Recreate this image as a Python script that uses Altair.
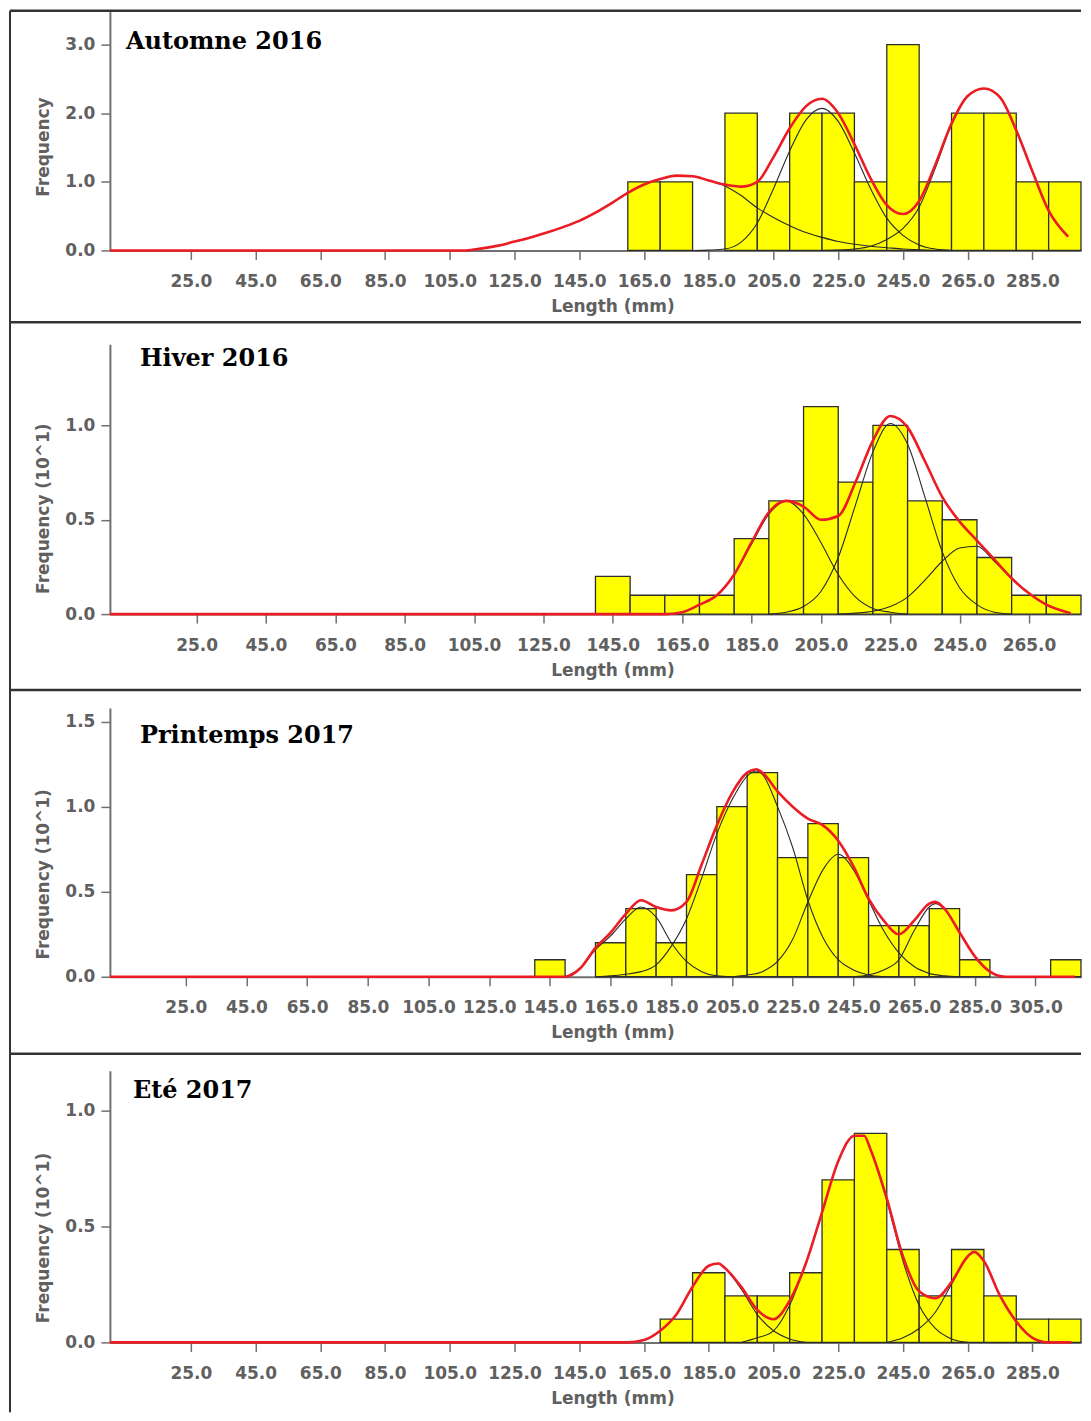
import altair as alt
import pandas as pd

# ---------------- data ----------------
# Panel 1 : Automne 2016 (frequency, counts)
P1_BINS = [160, 170, 190, 200, 210, 220, 230, 240, 250, 260, 270, 280, 290]
P1_COUNTS = [1, 1, 2, 1, 2, 2, 1, 3, 1, 2, 2, 1, 1]
P1_RED_X = [0, 110, 115, 120, 125, 130, 135, 140, 145, 150, 155, 160, 165, 170, 175, 180, 185, 190,
            195, 200, 205, 210, 215, 220, 225, 230, 235, 240, 245, 250, 255, 260, 265, 270, 275, 280,
            285, 290, 296]
P1_RED_Y = [0, 0, 0.03, 0.07, 0.13, 0.19, 0.26, 0.34, 0.43, 0.55, 0.69, 0.84, 0.96, 1.04, 1.09, 1.08,
            1.02, 0.96, 0.93, 1.00, 1.36, 1.78, 2.10, 2.21, 2.00, 1.55, 1.05, 0.66, 0.53, 0.72, 1.25,
            1.85, 2.25, 2.36, 2.23, 1.75, 1.15, 0.58, 0.20]
P1_C1_X = [110, 115, 120, 125, 130, 135, 140, 145, 150, 155, 160, 165, 170, 175, 180, 185, 190, 195,
           200, 205, 210, 215, 220, 225, 230, 235, 240, 245, 250, 255, 260]
P1_C1_Y = [0, 0.03, 0.07, 0.13, 0.19, 0.26, 0.34, 0.43, 0.55, 0.69, 0.84, 0.96, 1.04, 1.09, 1.08, 1.02,
           0.94, 0.80, 0.62, 0.48, 0.36, 0.26, 0.19, 0.13, 0.09, 0.06, 0.04, 0.02, 0.01, 0.0, 0.0]
P1_C2_X = [180, 185, 190, 195, 200, 205, 210, 215, 220, 225, 230, 235, 240, 245, 250, 255, 260]
P1_C2_Y = [0, 0.005, 0.02, 0.12, 0.40, 0.90, 1.45, 1.90, 2.07, 1.88, 1.42, 0.90, 0.47, 0.22, 0.08, 0.02, 0]
P1_C3_X = [220, 225, 230, 235, 240, 245, 250, 255, 260, 265, 270, 275, 280, 285, 290, 296]
P1_C3_Y = [0, 0.005, 0.02, 0.06, 0.16, 0.32, 0.63, 1.20, 1.83, 2.25, 2.36, 2.23, 1.75, 1.15, 0.58, 0.20]
P1_XTICKS = [25, 45, 65, 85, 105, 125, 145, 165, 185, 205, 225, 245, 265, 285]
P1_YTICKS = [0, 1, 2, 3]

# Panel 2 : Hiver 2016 (frequency x 10)
P2_BINS = [140, 150, 160, 170, 180, 190, 200, 210, 220, 230, 240, 250, 260, 270]
P2_COUNTS = [0.2, 0.1, 0.1, 0.1, 0.4, 0.6, 1.1, 0.7, 1.0, 0.6, 0.5, 0.3, 0.1, 0.1]
P2_RED_X = [0, 160, 165, 170, 175, 180, 185, 190, 195, 200, 205, 210, 215, 220, 225, 230, 235, 240,
            245, 250, 255, 260, 265, 270, 275, 277]
P2_RED_Y = [0, 0, 0.01, 0.05, 0.10, 0.21, 0.38, 0.54, 0.60, 0.57, 0.50, 0.52, 0.70, 0.92, 1.05, 0.99,
            0.81, 0.62, 0.49, 0.39, 0.29, 0.19, 0.11, 0.05, 0.015, 0.005]
P2_C1_X = [160, 165, 170, 175, 180, 185, 190, 195, 200, 205, 210, 215, 220, 225, 230]
P2_C1_Y = [0, 0.01, 0.05, 0.10, 0.21, 0.37, 0.53, 0.60, 0.53, 0.38, 0.21, 0.09, 0.03, 0.01, 0]
P2_C2_X = [190, 195, 200, 205, 210, 215, 220, 225, 230, 235, 240, 245, 250, 255, 260]
P2_C2_Y = [0, 0.01, 0.04, 0.12, 0.30, 0.58, 0.86, 1.01, 0.90, 0.62, 0.33, 0.14, 0.05, 0.01, 0]
P2_C3_X = [210, 215, 220, 225, 230, 235, 240, 245, 250, 255, 260, 265, 270, 275, 277]
P2_C3_Y = [0, 0.005, 0.015, 0.04, 0.09, 0.18, 0.28, 0.35, 0.36, 0.28, 0.19, 0.11, 0.05, 0.015, 0.005]
P2_XTICKS = [25, 45, 65, 85, 105, 125, 145, 165, 185, 205, 225, 245, 265]
P2_YTICKS = [0, 0.5, 1.0]

# Panel 3 : Printemps 2017
P3_BINS = [140, 160, 170, 180, 190, 200, 210, 220, 230, 240, 250, 260, 270, 280, 310]
P3_COUNTS = [0.1, 0.2, 0.4, 0.2, 0.6, 1.0, 1.2, 0.7, 0.9, 0.7, 0.3, 0.3, 0.4, 0.1, 0.1]
P3_RED_X = [0, 150, 155, 160, 165, 170, 175, 180, 185, 190, 195, 200, 205, 210, 213, 215, 220, 225,
            230, 235, 240, 245, 250, 255, 260, 265, 270, 272, 275, 280, 285, 290, 295, 318]
P3_RED_Y = [0, 0, 0.05, 0.17, 0.26, 0.37, 0.45, 0.41, 0.39, 0.44, 0.66, 0.89, 1.08, 1.20, 1.22, 1.20,
            1.09, 1.00, 0.93, 0.89, 0.80, 0.65, 0.46, 0.33, 0.25, 0.33, 0.43, 0.44, 0.40, 0.26, 0.12,
            0.03, 0, 0]
P3_C1_X = [150, 155, 160, 165, 170, 175, 180, 185, 190, 195, 200, 205]
P3_C1_Y = [0, 0.05, 0.16, 0.24, 0.34, 0.41, 0.35, 0.20, 0.09, 0.03, 0.005, 0]
P3_C2_X = [160, 165, 170, 175, 180, 185, 190, 195, 200, 205, 210, 213, 215, 220, 225, 230, 235, 240,
           245, 250, 255]
P3_C2_Y = [0, 0.005, 0.015, 0.03, 0.07, 0.18, 0.34, 0.58, 0.84, 1.04, 1.18, 1.21, 1.19, 1.00, 0.76,
           0.45, 0.23, 0.10, 0.04, 0.01, 0]
P3_C3_X = [205, 210, 215, 220, 225, 230, 235, 240, 245, 250, 255, 260, 265, 270, 275, 280]
P3_C3_Y = [0, 0.01, 0.03, 0.09, 0.22, 0.44, 0.63, 0.72, 0.63, 0.45, 0.27, 0.14, 0.06, 0.02, 0.005, 0]
P3_C4_X = [245, 250, 255, 260, 265, 270, 272, 275, 280, 285, 290, 295]
P3_C4_Y = [0, 0.01, 0.04, 0.10, 0.27, 0.41, 0.43, 0.40, 0.26, 0.12, 0.03, 0]
P3_XTICKS = [25, 45, 65, 85, 105, 125, 145, 165, 185, 205, 225, 245, 265, 285, 305]
P3_YTICKS = [0, 0.5, 1.0, 1.5]

# Panel 4 : Eté 2017
P4_BINS = [170, 180, 190, 200, 210, 220, 230, 240, 250, 260, 270, 280, 290]
P4_COUNTS = [0.1, 0.3, 0.2, 0.2, 0.3, 0.7, 0.9, 0.4, 0.2, 0.4, 0.2, 0.1, 0.1]
P4_RED_X = [0, 160, 165, 170, 175, 180, 185, 188, 190, 195, 200, 205, 210, 215, 220, 225, 230, 233,
            235, 240, 245, 250, 255, 260, 265, 267, 270, 275, 280, 285, 290, 297]
P4_RED_Y = [0, 0, 0.01, 0.05, 0.12, 0.24, 0.33, 0.34, 0.32, 0.24, 0.14, 0.10, 0.18, 0.34, 0.56, 0.78,
            0.89, 0.89, 0.83, 0.62, 0.37, 0.22, 0.19, 0.26, 0.37, 0.39, 0.35, 0.20, 0.09, 0.02, 0, 0]
P4_C1_X = [160, 165, 170, 175, 180, 185, 188, 190, 195, 200, 205, 210, 215]
P4_C1_Y = [0, 0.01, 0.05, 0.12, 0.24, 0.33, 0.34, 0.32, 0.23, 0.12, 0.05, 0.015, 0]
P4_C2_X = [195, 200, 205, 210, 215, 220, 225, 230, 233, 235, 240, 245, 250, 255, 260, 265]
P4_C2_Y = [0, 0.02, 0.05, 0.16, 0.34, 0.56, 0.78, 0.89, 0.89, 0.83, 0.61, 0.35, 0.16, 0.06, 0.015, 0]
P4_C3_X = [240, 245, 250, 255, 260, 265, 267, 270, 275, 280, 285, 290]
P4_C3_Y = [0, 0.02, 0.06, 0.13, 0.25, 0.37, 0.39, 0.35, 0.20, 0.09, 0.02, 0]
P4_XTICKS = [25, 45, 65, 85, 105, 125, 145, 165, 185, 205, 225, 245, 265, 285]
P4_YTICKS = [0, 0.5, 1.0]

TITLES = ["Automne 2016", "Hiver 2016", "Printemps 2017", "Eté 2017"]
Y_TITLES = ["Frequency", "Frequency (10^1)", "Frequency (10^1)", "Frequency (10^1)"]
X_TITLE = "Length (mm)"
BIN_WIDTH = 10

# ---------------- styling / layout ----------------
FONT = "DejaVu Sans"
TXT = "#606060"
AX = "#707070"
W = 972

PANELS = [
    dict(title=TITLES[0], ytitle=Y_TITLES[0], xmax=300, ymax=3.48, h=239,
         bins=P1_BINS, counts=P1_COUNTS, red=(P1_RED_X, P1_RED_Y),
         comps=[(P1_C1_X, P1_C1_Y), (P1_C2_X, P1_C2_Y), (P1_C3_X, P1_C3_Y)],
         xticks=P1_XTICKS, yticks=P1_YTICKS, ytitle_y=135, tx=16, ty=37, ftop=-1, fbot=311),
    dict(title=TITLES[1], ytitle=Y_TITLES[1], xmax=280, ymax=1.43, h=270,
         bins=P2_BINS, counts=P2_COUNTS, red=(P2_RED_X, P2_RED_Y),
         comps=[(P2_C1_X, P2_C1_Y), (P2_C2_X, P2_C2_Y), (P2_C3_X, P2_C3_Y)],
         xticks=P2_XTICKS, yticks=P2_YTICKS, ytitle_y=164, tx=30, ty=22, ftop=-22, fbot=346),
    dict(title=TITLES[2], ytitle=Y_TITLES[2], xmax=320, ymax=1.58, h=269,
         bins=P3_BINS, counts=P3_COUNTS, red=(P3_RED_X, P3_RED_Y),
         comps=[(P3_C1_X, P3_C1_Y), (P3_C2_X, P3_C2_Y), (P3_C3_X, P3_C3_Y), (P3_C4_X, P3_C4_Y)],
         xticks=P3_XTICKS, yticks=P3_YTICKS, ytitle_y=166, tx=30, ty=35, ftop=-18, fbot=346),
    dict(title=TITLES[3], ytitle=Y_TITLES[3], xmax=300, ymax=1.17, h=272,
         bins=P4_BINS, counts=P4_COUNTS, red=(P4_RED_X, P4_RED_Y),
         comps=[(P4_C1_X, P4_C1_Y), (P4_C2_X, P4_C2_Y), (P4_C3_X, P4_C3_Y)],
         xticks=P4_XTICKS, yticks=P4_YTICKS, ytitle_y=167, tx=23, ty=27, ftop=-17, fbot=342),
]


def make_panel(p):
    xs = alt.Scale(domain=[0, p["xmax"]], nice=False, zero=False)
    ys = alt.Scale(domain=[0, p["ymax"]], nice=False, zero=False)
    xaxis = alt.Axis(values=p["xticks"], format=".1f", title=X_TITLE, grid=False,
                     labelFont=FONT, labelFontSize=17, labelFontWeight="bold", labelColor=TXT,
                     labelPadding=14, labelOverlap=False, labelFlush=False,
                     tickSize=9, tickColor=AX, tickWidth=1.5, domainColor=AX, domainWidth=2,
                     titleFont=FONT, titleFontSize=17, titleFontWeight="bold", titleColor=TXT,
                     titleX=503, titleY=56, titleAlign="center", titleBaseline="middle")
    yaxis = alt.Axis(values=p["yticks"], format=".1f", title=p["ytitle"], grid=False,
                     labelFont=FONT, labelFontSize=17, labelFontWeight="bold", labelColor=TXT,
                     labelPadding=6, labelOverlap=False, labelFlush=False,
                     tickSize=9, tickColor=AX, tickWidth=1.5, domainColor=AX, domainWidth=2,
                     titleFont=FONT, titleFontSize=17, titleFontWeight="bold", titleColor=TXT,
                     titleX=-66, titleY=p["ytitle_y"], titleAngle=270, titleAlign="center",
                     titleBaseline="middle")

    bars_df = pd.DataFrame({
        "start": p["bins"],
        "end": [b + BIN_WIDTH for b in p["bins"]],
        "count": p["counts"],
        "base": [0] * len(p["bins"]),
    })
    bars = alt.Chart(bars_df).mark_rect(fill="#ffff00", stroke="#2e2e2e", strokeWidth=1.3).encode(
        x=alt.X("start:Q", scale=xs, axis=xaxis), x2="end:Q",
        y=alt.Y("count:Q", scale=ys, axis=yaxis), y2="base:Q")

    rows = []
    for i, (cx, cy) in enumerate(p["comps"]):
        for a, b in zip(cx, cy):
            rows.append({"x": a, "y": b, "comp": f"c{i}"})
    comp_df = pd.DataFrame(rows)
    comps = alt.Chart(comp_df).mark_line(color="#2a2a2a", strokeWidth=1.1, interpolate="monotone").encode(
        x=alt.X("x:Q", scale=xs, axis=xaxis), y=alt.Y("y:Q", scale=ys, axis=yaxis),
        detail="comp:N", order="x:Q")

    red_df = pd.DataFrame({"x": p["red"][0], "y": p["red"][1]})
    red = alt.Chart(red_df).mark_line(color="#ec1c24", strokeWidth=2.6, interpolate="monotone").encode(
        x=alt.X("x:Q", scale=xs, axis=xaxis), y=alt.Y("y:Q", scale=ys, axis=yaxis), order="x:Q")

    title = alt.Chart(pd.DataFrame({"t": [p["title"]]})).mark_text(
        font="DejaVu Serif", fontSize=24, fontWeight="bold", align="left", baseline="alphabetic",
        color="#000000").encode(text="t:N", x=alt.value(p["tx"]), y=alt.value(p["ty"]))

    one = pd.DataFrame({"k": [0]})
    top = alt.Chart(one).mark_rule(color="#333333", strokeWidth=2.5).encode(
        x=alt.value(-100), x2=alt.value(W), y=alt.value(p["ftop"]))
    left = alt.Chart(one).mark_rule(color="#333333", strokeWidth=2).encode(
        x=alt.value(-100), y=alt.value(p["ftop"]), y2=alt.value(p["fbot"]))

    return alt.layer(bars, comps, red, title, top, left).properties(width=W, height=p["h"])


chart = alt.vconcat(*[make_panel(p) for p in PANELS], spacing=94, bounds="flush").properties(
    padding=0
).configure(
    background="white",
    view=alt.ViewConfig(stroke="transparent", strokeWidth=0),
)

chart.save("out.html", embed_options={"renderer": "svg", "actions": False})
